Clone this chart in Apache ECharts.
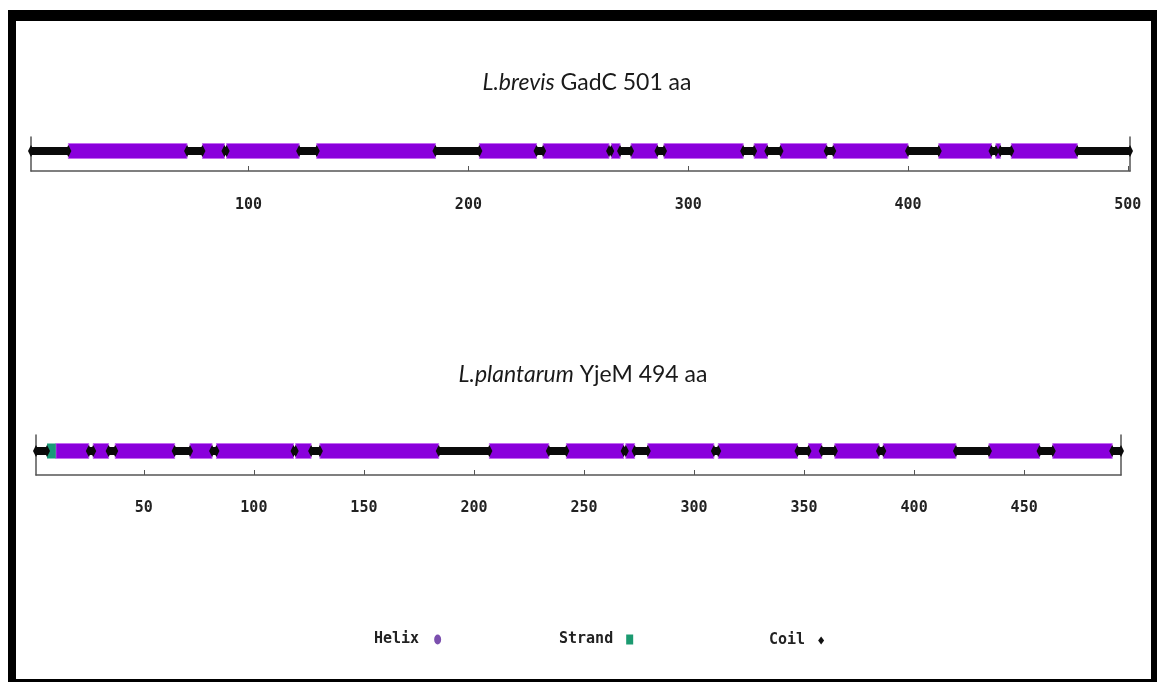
<!DOCTYPE html>
<html>
<head>
<meta charset="utf-8">
<script src="https://cdn.jsdelivr.net/npm/echarts@6/dist/echarts.min.js"></script>
<style>html,body{margin:0;padding:0;background:#fff}#c{width:1157px;height:682px}</style>
</head>
<body>
<div id="c"></div>
<script>
// ---- data ----
const titles = ['L.brevis', 'L.plantarum'];
const subtitles = ['GadC 501 aa', 'YjeM 494 aa'];
const lengths = [501, 494];
const ticksTop = [100, 200, 300, 400, 500];
const ticksBottom = [50, 100, 150, 200, 250, 300, 350, 400, 450];

const brevisHelix = [[18,72],[79,89],[90,123],[131,185],[205,231],[234,264],[265,269],[274,286],[289,325],[330,336],[342,363],[366,400],[414,438],[440,442],[447,477]];
const brevisCoil = [[1,18],[72,79],[89,90],[123,131],[185,205],[231,234],[264,265],[269,274],[286,289],[325,330],[336,342],[363,366],[400,414],[438,440],[442,447],[477,501]];
const brevisStrand = [];

const plantHelix = [[10,25],[27,34],[37,64],[71,81],[83,118],[119,126],[130,184],[207,234],[242,268],[269,273],[279,309],[311,347],[352,358],[364,384],[386,419],[434,457],[463,490]];
const plantCoil = [[1,6],[25,27],[34,37],[64,71],[81,83],[118,119],[126,130],[184,207],[234,242],[268,269],[273,279],[309,311],[347,352],[358,364],[384,386],[419,434],[457,463],[490,494]];
const plantStrand = [[6,10]];

const legendNames = ['Helix', 'Strand', 'Coil'];

// ---- styles ----
const C_HELIX = '#8a00dc', C_HELIX_EDGE = '#c56af2';
const C_STRAND = '#1a9a78';
const C_COIL = '#0a0a0a';

function seg(arr){ return arr.map(d => [d[0], d[1], 1]); }
function maker(h, fill, stroke, pinch){
  return function(params, api){
    const s = api.coord([api.value(0), api.value(2)]);
    const e = api.coord([api.value(1), api.value(2)]);
    const w = Math.max(e[0]-s[0], 1);
    const children = [{type:'rect', shape:{x:s[0], y:s[1]-h/2, width:w, height:h},
      style:{fill:fill, stroke:stroke, lineWidth: stroke ? 1 : 0}}];
    if (pinch) {
      // diamond-like pinch marks at both ends of a coil segment
      [s[0], e[0]].forEach(function(x){
        children.push({type:'polygon', shape:{points:[[x-3,s[1]],[x,s[1]-6],[x+3,s[1]],[x,s[1]+6]]},
          style:{fill:fill}});
      });
    }
    return {type:'group', children:children};
  };
}
function series(name, data, gi, h, fill, stroke, z, pinch){
  return {type:'custom', name:name, xAxisIndex:gi, yAxisIndex:gi*2, data:seg(data),
    renderItem:maker(h, fill, stroke, pinch), encode:{x:[0,1], y:2}, z:z, silent:true,
    itemStyle:{color:fill}};
}

const axisLineStyle = {lineStyle:{color:'#555', width:1.5}};
const labelStyle = {fontFamily:'DejaVu Sans Mono', fontWeight:'bold', fontSize:15, color:'#222'};

function xAx(gi, max, ticks, margin){
  return {type:'value', gridIndex:gi, min:1, max:max,
    axisLine:Object.assign({show:true, onZero:false}, axisLineStyle),
    axisTick:{show:true, inside:true, length:5, customValues:ticks, lineStyle:{color:'#555'}},
    axisLabel:Object.assign({customValues:ticks, margin:margin}, labelStyle),
    splitLine:{show:false}};
}
function yAx(gi, max, pos){
  return {type:'value', gridIndex:gi, min:0, max:max, position:pos,
    axisLine:Object.assign({show:true}, axisLineStyle),
    axisTick:{show:false}, axisLabel:{show:false}, splitLine:{show:false}};
}

const titleStyle = {fontFamily:'Lato', fontSize:23, color:'#1a1a1a', fontWeight:'normal',
  rich:{i:{fontFamily:'Lato', fontSize:23, fontStyle:'italic', color:'#1a1a1a'}}};

const option = {
  animation:false,
  backgroundColor:'#ffffff',
  title:[
    {text:'{i|' + titles[0] + '} ' + subtitles[0], left:582, top:66, textAlign:'center', textStyle:titleStyle},
    {text:'{i|' + titles[1] + '} ' + subtitles[1], left:578, top:358, textAlign:'center', textStyle:titleStyle}
  ],
  legend:[
    {data:[{name:legendNames[0], icon:'path://M50,0 A50,70 0 1,1 50,140 A50,70 0 1,1 50,0 Z', itemStyle:{color:'#7b4fae'}}],
      left:369, top:627, align:'right', itemWidth:7, itemHeight:10, selectedMode:false,
      textStyle:Object.assign({padding:[0,10,0,0]}, labelStyle)},
    {data:[{name:legendNames[1], icon:'rect', itemStyle:{color:'#1b9a70'}}],
      left:554, top:627, align:'right', itemWidth:7, itemHeight:10, selectedMode:false,
      textStyle:Object.assign({padding:[0,8,0,0]}, labelStyle)},
    {data:[{name:legendNames[2], icon:'diamond', itemStyle:{color:'#111'}}],
      left:764, top:628, align:'right', itemWidth:6, itemHeight:8, selectedMode:false,
      textStyle:Object.assign({padding:[0,8,0,0]}, labelStyle)}
  ],
  grid:[
    {left:31, right:27, top:137, height:34},
    {left:36, right:36, top:435, height:40}
  ],
  xAxis:[xAx(0, lengths[0], ticksTop, 27), xAx(1, lengths[1], ticksBottom, 26)],
  yAxis:[yAx(0, 1.7, 'left'), yAx(0, 1.7, 'right'), yAx(1, 1.667, 'left'), yAx(1, 1.667, 'right')],
  series:[
    series('Coil', brevisCoil, 0, 8, C_COIL, null, 4, true),
    series('Helix', brevisHelix, 0, 15, C_HELIX, C_HELIX_EDGE, 3, false),
    series('Strand', brevisStrand, 0, 15, C_STRAND, null, 3, false),
    series('Coil', plantCoil, 1, 8, C_COIL, null, 4, true),
    series('Helix', plantHelix, 1, 15, C_HELIX, C_HELIX_EDGE, 3, false),
    series('Strand', plantStrand, 1, 15, C_STRAND, null, 3, false)
  ],
  graphic:[
    {type:'rect', shape:{x:8, y:10, width:1149, height:11}, style:{fill:'#000'}, silent:true},
    {type:'rect', shape:{x:8, y:10, width:8, height:672}, style:{fill:'#000'}, silent:true},
    {type:'rect', shape:{x:1151, y:10, width:6, height:672}, style:{fill:'#000'}, silent:true},
    {type:'rect', shape:{x:8, y:679, width:1149, height:3}, style:{fill:'#000'}, silent:true}
  ]
};
const chart = echarts.init(document.getElementById('c'), null, {renderer:'canvas'});
chart.setOption(option);
</script>
</body>
</html>
